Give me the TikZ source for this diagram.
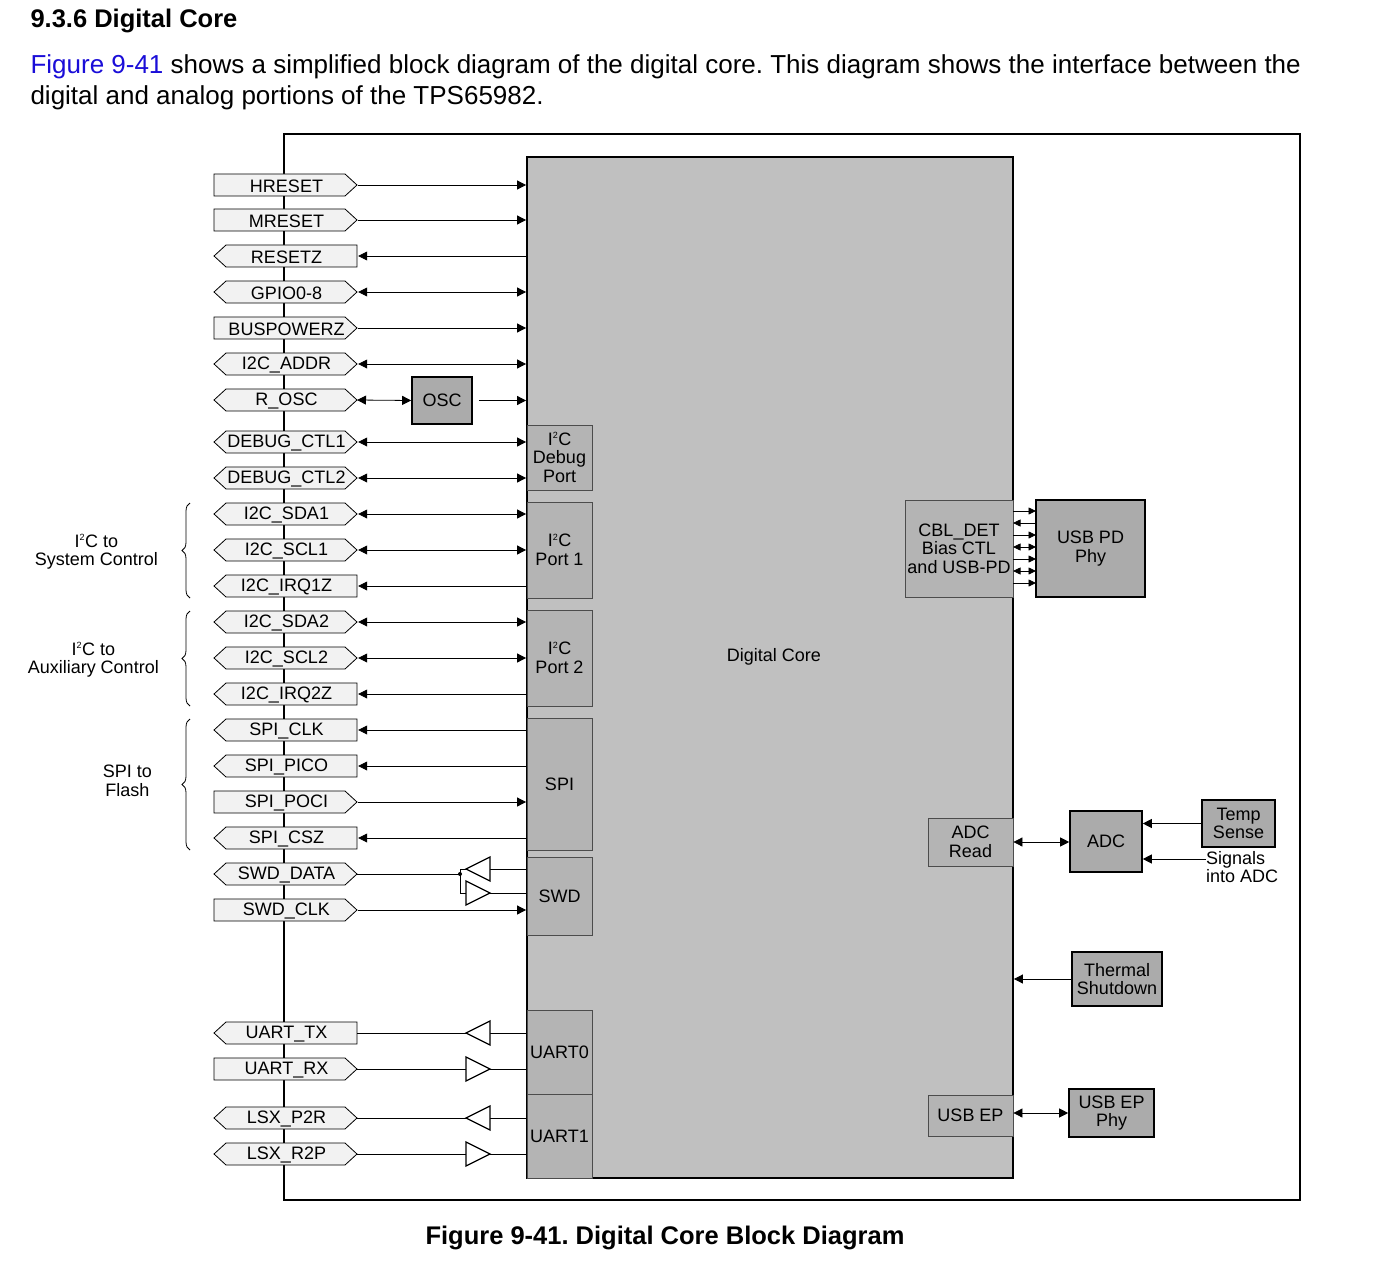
\documentclass[tikz,border=0pt]{standalone}
\usepackage{fontspec}
\setmainfont{Liberation Sans}
\usetikzlibrary{arrows.meta,decorations.pathreplacing}
\definecolor{pinfill}{HTML}{F2F2F2}
\definecolor{corefill}{HTML}{C0C0C0}
\definecolor{subfill}{HTML}{B4B4B4}
\definecolor{boxfill}{HTML}{ABABAB}
\definecolor{linkblue}{HTML}{1A0DD8}
\newcommand\sq{\textsuperscript{\fontsize{9}{9}\selectfont 2}}
\frenchspacing
\begin{document}
\begin{tikzpicture}[x=1pt,y=-1pt,
  lbl/.style={font=\fontsize{18}{18.5}\selectfont, inner sep=0pt, align=center},
  sub/.style={draw=black!70, fill=subfill, line width=0.8pt, lbl},
  box/.style={draw, fill=boxfill, line width=1.6pt, lbl},
  tip/.style={-{Triangle[length=9pt,width=9pt]}},
  btip/.style={{Triangle[length=9pt,width=9pt]}-{Triangle[length=9pt,width=9pt]}},
  stip/.style={-{Triangle[length=7.5pt,width=7pt]}},
  sbtip/.style={{Triangle[length=7.5pt,width=7pt]}-{Triangle[length=7.5pt,width=7pt]}},
  ln/.style={line width=0.8pt}]
\useasboundingbox (0,0) rectangle (1398,1276);
% header
\node[anchor=west,font=\fontsize{25.5}{28}\selectfont\bfseries] (h) at (27,21) {9.3.6 Digital Core};
\node[anchor=west,font=\fontsize{26}{28}\selectfont] (t1) at (27,67) {\textcolor{linkblue}{Figure 9-41} shows a simplified block diagram of the digital core. This diagram shows the interface between the};
\node[anchor=west,font=\fontsize{26}{28}\selectfont] (t2) at (27,98) {digital and analog portions of the TPS65982.};
\node[font=\fontsize{25.5}{28}\selectfont\bfseries] (cap) at (665,1238) {Figure 9-41. Digital Core Block Diagram};
% frame
\draw[line width=1.4pt] (284,134) rectangle (1300,1200);
% core
\node[draw, fill=corefill, line width=1.8pt, minimum width=486pt, minimum height=1021pt, inner sep=0pt] (core) at (770,667.5) {};
\node[lbl] (corelbl) at (774,657) {Digital Core};
% sub blocks
\node[sub, minimum width=65pt, minimum height=65pt] (dbg) at (559.5,457.5) {I\sq C\\Debug\\Port};
\node[sub, minimum width=65pt, minimum height=96pt] (p1) at (559.5,550) {I\sq C\\Port 1};
\node[sub, minimum width=65pt, minimum height=96pt] (p2) at (559.5,658) {I\sq C\\Port 2};
\node[sub, minimum width=65pt, minimum height=132pt] (spi) at (559.5,784) {SPI};
\node[sub, minimum width=65pt, minimum height=78pt] (swd) at (559.5,896) {SWD};
\node[sub, minimum width=65pt, minimum height=84pt] (u0) at (559.5,1052) {UART0};
\node[sub, minimum width=65pt, minimum height=84pt] (u1) at (559.5,1136) {UART1};
\node[sub, minimum width=108pt, minimum height=97pt] (cbl) at (959,548.5) {CBL\_DET\\Bias CTL\\and USB-PD};
\node[sub, minimum width=85pt, minimum height=48pt] (adcr) at (970.5,842) {ADC\\Read};
\node[sub, minimum width=85pt, minimum height=41pt] (usbep) at (970.5,1115.5) {USB EP};
% right boxes
\node[box, minimum width=109pt, minimum height=97pt] (pdphy) at (1090.5,548.5) {USB PD\\Phy};
\node[box, minimum width=72pt, minimum height=61pt] (adc) at (1106,841.5) {ADC};
\node[box, minimum width=73pt, minimum height=47pt] (temp) at (1238.5,823.5) {Temp\\Sense};
\node[lbl, align=left, anchor=north west] (sig) at (1206,851) {Signals\\into ADC};
\node[box, minimum width=90pt, minimum height=54pt] (therm) at (1117,979) {Thermal\\Shutdown};
\node[box, minimum width=85pt, minimum height=48pt] (epphy) at (1111.5,1113) {USB EP\\Phy};
\node[box, minimum width=60pt, minimum height=47pt] (osc) at (442,400.5) {OSC};
% CBL arrows
\draw[ln,stip] (1013,511) -- (1036,511);
\draw[ln,stip] (1036,523) -- (1013,523);
\draw[ln,stip] (1013,535) -- (1036,535);
\draw[ln,sbtip] (1013,547) -- (1036,547);
\draw[ln,stip] (1013,559) -- (1036,559);
\draw[ln,sbtip] (1013,571) -- (1036,571);
\draw[ln,stip] (1013,583) -- (1036,583);
% ADC etc.
\draw[ln,btip] (adcr.east) -- (adc.west |- adcr.east);
\draw[ln,tip] (temp.west) -- (adc.east |- temp.west);
\coordinate (sigend) at (1206,859);
\draw[ln,tip] (sigend) -- (adc.east |- sigend);
\draw[ln,tip] (therm.west) -- (core.east |- therm.west);
\draw[ln,btip] (usbep.east |- epphy.west) -- (epphy.west);
% pins
\newcommand\mypin[4]{% name, y, type(i/o/b), text
  \def\yy{#2}%
  \if#3i\fill[pinfill] (214,\yy-11) -- (345,\yy-11) -- (357,\yy) -- (345,\yy+11) -- (214,\yy+11) -- cycle;
        \draw[ln] (214,\yy-11) -- (345,\yy-11) -- (357,\yy) -- (345,\yy+11) -- (214,\yy+11) -- cycle;\fi
  \if#3o\fill[pinfill] (226,\yy-11) -- (357,\yy-11) -- (357,\yy+11) -- (226,\yy+11) -- (214,\yy) -- cycle;
        \draw[ln] (226,\yy-11) -- (357,\yy-11) -- (357,\yy+11) -- (226,\yy+11) -- (214,\yy) -- cycle;\fi
  \if#3b\fill[pinfill] (226,\yy-11) -- (345,\yy-11) -- (357,\yy) -- (345,\yy+11) -- (226,\yy+11) -- (214,\yy) -- cycle;
        \draw[ln] (226,\yy-11) -- (345,\yy-11) -- (357,\yy) -- (345,\yy+11) -- (226,\yy+11) -- (214,\yy) -- cycle;\fi
  \node[lbl, minimum width=143pt, minimum height=22pt] (#1) at (286.5,\yy+1) {#4};}
\mypin{hreset}{185}{i}{HRESET}
\mypin{mreset}{220}{i}{MRESET}
\mypin{resetz}{256}{o}{RESETZ}
\mypin{gpio}{292}{b}{GPIO0-8}
\mypin{buspwr}{328}{i}{BUSPOWERZ}
\mypin{addr}{364}{b}{I2C\_ADDR}
\mypin{rosc}{400}{b}{R\_OSC}
\mypin{dbg1}{442}{b}{DEBUG\_CTL1}
\mypin{dbg2}{478}{b}{DEBUG\_CTL2}
\mypin{sda1}{514}{b}{I2C\_SDA1}
\mypin{scl1}{550}{b}{I2C\_SCL1}
\mypin{irq1}{586}{o}{I2C\_IRQ1Z}
\mypin{sda2}{622}{b}{I2C\_SDA2}
\mypin{scl2}{658}{b}{I2C\_SCL2}
\mypin{irq2}{694}{o}{I2C\_IRQ2Z}
\mypin{sclk}{730}{o}{SPI\_CLK}
\mypin{pico}{766}{o}{SPI\_PICO}
\mypin{poci}{802}{i}{SPI\_POCI}
\mypin{csz}{838}{o}{SPI\_CSZ}
\mypin{swdd}{874}{b}{SWD\_DATA}
\mypin{swdc}{910}{i}{SWD\_CLK}
\mypin{utx}{1033}{o}{UART\_TX}
\mypin{urx}{1069}{i}{UART\_RX}
\mypin{p2r}{1118}{b}{LSX\_P2R}
\mypin{r2p}{1154}{b}{LSX\_R2P}
% pin connectors
\foreach \p in {hreset,mreset,buspwr,poci,swdc}{\draw[ln,tip] ([yshift=1pt]\p.east) -- ([yshift=1pt]\p.east -| core.west);}
\foreach \p in {gpio,addr,dbg1,dbg2,sda1,scl1,sda2,scl2}{\draw[ln,btip] ([yshift=1pt]\p.east) -- ([yshift=1pt]\p.east -| core.west);}
\foreach \p in {resetz,irq1,irq2,sclk,pico,csz}{\draw[ln,tip] ([yshift=1pt]\p.east -| core.west) -- ([yshift=1pt]\p.east);}
\draw[ln,btip] (357,400) -- (osc.west);
\draw[ln,tip] (osc.east) ++(6,0) -- (osc.east -| core.west);
% buffers
\newcommand\bufL[1]{\draw[line width=1.3pt,fill=white] (466,#1) -- (490,#1-12) -- (490,#1+12) -- cycle;}
\newcommand\bufR[1]{\draw[line width=1.3pt,fill=white] (490,#1) -- (466,#1-12) -- (466,#1+12) -- cycle;}
\coordinate (jn) at (460,874);
\draw[ln] (357,874) -- (jn);
\fill (jn) circle (2pt);
\draw[ln] (jn) |- (466,869);
\draw[ln] (jn) |- (466,893);
\draw[ln] (490,869) -- (527,869);
\draw[ln] (490,893) -- (527,893);
\bufL{869}\bufR{893}
\foreach \yy in {1033,1069,1118,1154}{\draw[ln] (357,\yy) -- (527,\yy);}
\bufL{1033}\bufR{1069}\bufL{1118}\bufR{1154}
% braces and group labels
\draw[ln,decorate,decoration={brace,amplitude=8pt}] (190,598) -- (190,503);
\draw[ln,decorate,decoration={brace,amplitude=8pt}] (190,706) -- (190,611);
\draw[ln,decorate,decoration={brace,amplitude=8pt}] (190,850) -- (190,719);
\node[lbl, align=center, anchor=east] (g1) at (158,552) {I\sq C to\\System Control};
\node[lbl, align=center, anchor=east] (g2) at (159,660) {I\sq C to\\Auxiliary Control};
\node[lbl, align=center, anchor=east] (g3) at (152,781) {SPI to\\Flash};
\end{tikzpicture}
\end{document}
